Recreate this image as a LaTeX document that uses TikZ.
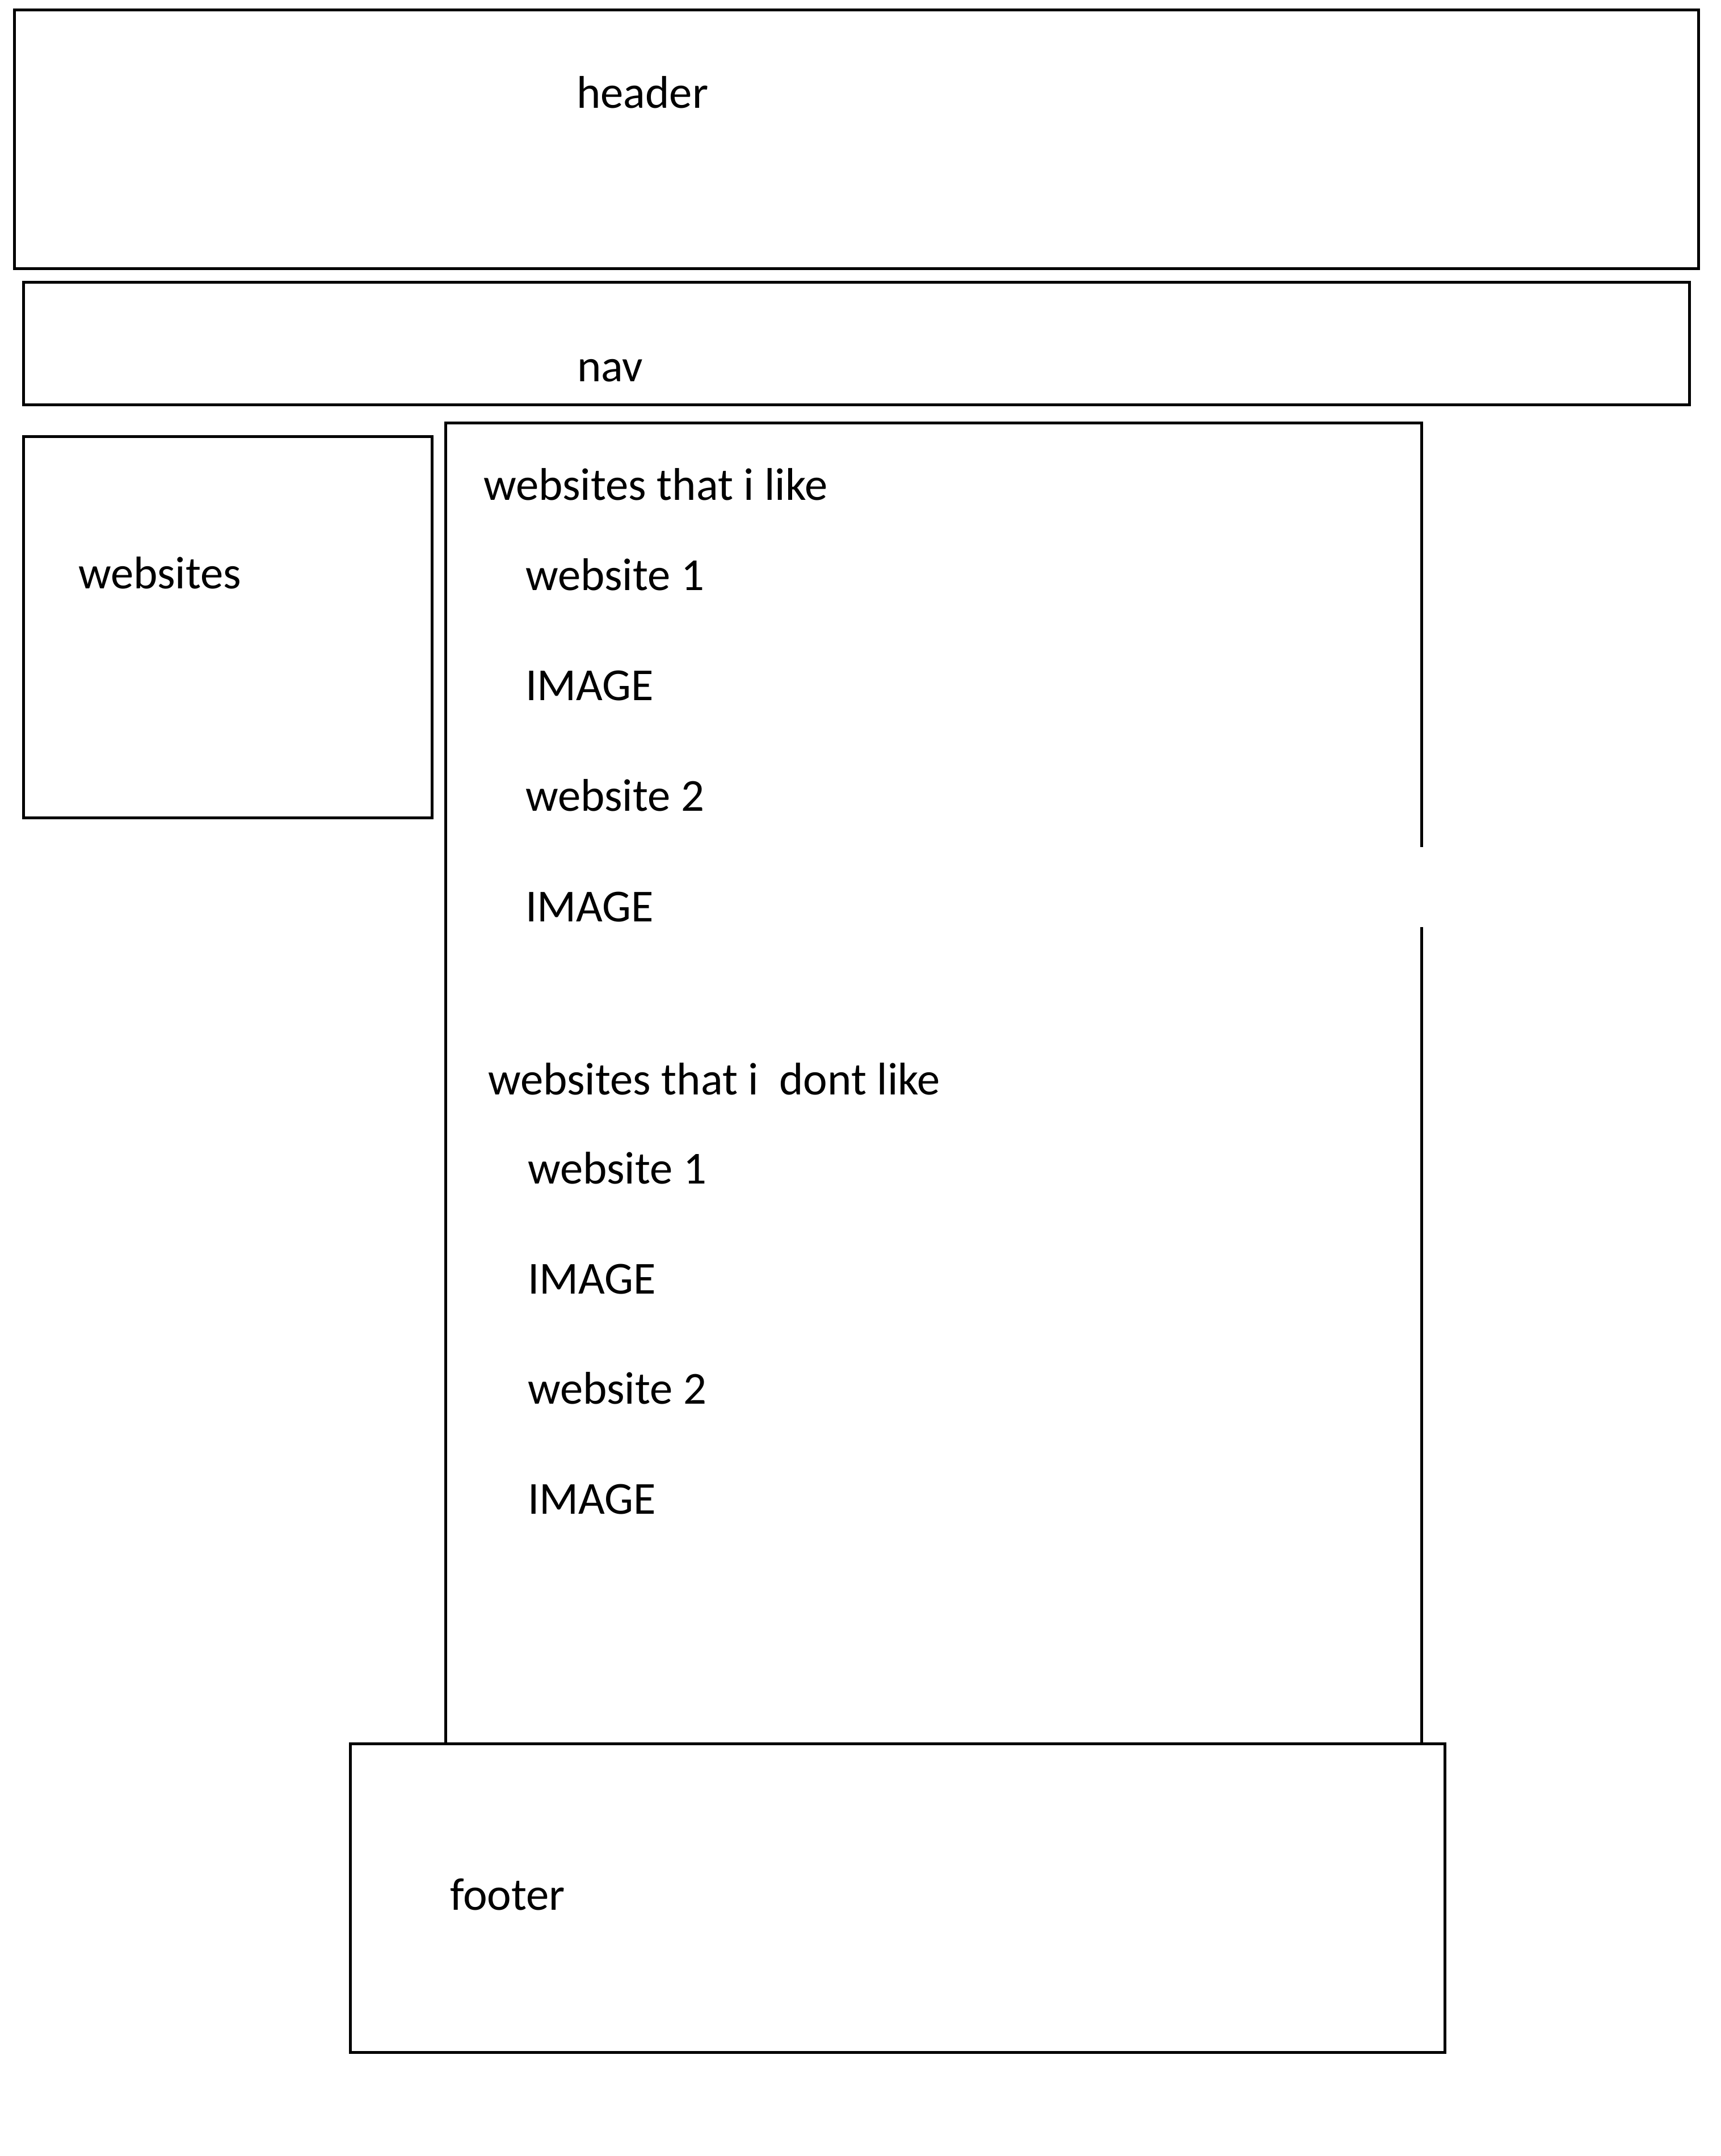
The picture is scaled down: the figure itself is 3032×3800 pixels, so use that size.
\documentclass[tikz,border=0pt]{standalone}
\usepackage{fontspec}
\setmainfont{Carlito}
\begin{document}
\begin{tikzpicture}[x=0.25pt,y=-0.25pt,
  box/.style={draw=black,line width=1.25pt,line join=miter},
  lbl/.style={anchor=base west,inner sep=0pt,outer sep=0pt,font=\fontsize{20.2pt}{24pt}\selectfont}]
\path[use as bounding box] (0,0) rectangle (3032,3800);
\fill[white] (0,0) rectangle (3032,3800);
% boxes
\draw[box] (25.5,17.5) rectangle (2993.5,473.5);
\draw[box] (41.5,497.5) rectangle (2977.5,713.5);
\draw[box] (41.5,769.5) rectangle (761.5,1441);
\draw[box] (785.5,3073.5) -- (785.5,745.5) -- (2505.5,745.5) -- (2505.5,1493);
\draw[box] (2505.5,1634) -- (2505.5,3073.5);
\draw[box] (617.5,3073.5) rectangle (2546,3617);
% labels
\node[lbl] (header) at (1016,191) {header};
\node[lbl] (nav) at (1017,672) {nav};
\node[lbl] (websites) at (138,1037) {websites};
\node[lbl] (like) at (852,881) {websites that i like};
\node[lbl] (likeA) at (926,1040) {website 1};
\node[lbl] (likeAimg) at (926,1234) {IMAGE};
\node[lbl] (likeB) at (926,1429) {website 2};
\node[lbl] (likeBimg) at (926,1624) {IMAGE};
\node[lbl] (dislike) at (860,1929) {websites that i\ \ dont like};
\node[lbl] (dislikeA) at (930,2086) {website 1};
\node[lbl] (dislikeAimg) at (930,2280) {IMAGE};
\node[lbl] (dislikeB) at (930,2474) {website 2};
\node[lbl] (dislikeBimg) at (930,2668) {IMAGE};
\node[lbl] (footer) at (793,3366) {footer};
\end{tikzpicture}
\end{document}
